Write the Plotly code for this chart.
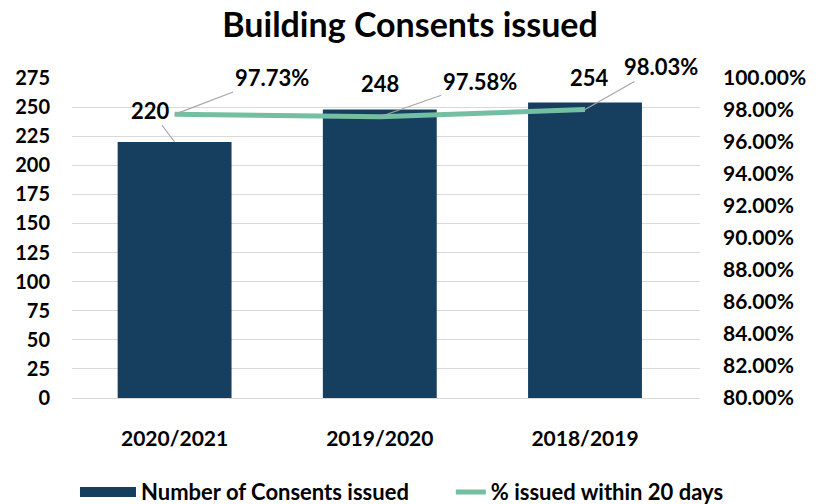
import plotly.graph_objects as go

categories = ["2020/2021", "2019/2020", "2018/2019"]
consents = [220, 248, 254]
pct_within_20 = [0.9773, 0.9758, 0.9803]
pct_labels = ["97.73%", "97.58%", "98.03%"]

FONT = "Lato"
NAVY = "#163f5f"
TEAL = "#74bfa2"
LEAD = "#a6a6a6"

fig = go.Figure()
fig.add_trace(go.Bar(
    x=categories, y=consents, name="Number of Consents issued",
    marker=dict(color=NAVY, line=dict(width=0)), width=0.555, showlegend=False,
))
# legend-only entry giving a wide bar swatch like the reference
fig.add_trace(go.Scatter(
    x=[None], y=[None], name="Number of Consents issued", mode="lines",
    line=dict(color=NAVY, width=18), showlegend=True, legend="legend",
))
fig.add_trace(go.Scatter(
    x=categories, y=pct_within_20, name="% issued within 20 days",
    mode="lines", line=dict(color=TEAL, width=5), yaxis="y2", legend="legend2",
))

lab_font = dict(family=FONT, size=22, color="black", weight="bold")
# bar value labels
bar_offsets = [(-24, -32, True), (0, -26, False), (4, -25, False)]
for c, v, (ax, ay, arrow) in zip(categories, consents, bar_offsets):
    if arrow:
        fig.add_annotation(x=c, y=v, xref="x", yref="y", text=str(v), showarrow=True,
                           ax=ax, ay=ay, arrowhead=0, arrowwidth=1.2, arrowcolor=LEAD,
                           font=lab_font, standoff=0)
    else:
        fig.add_annotation(x=c, y=v, xref="x", yref="y", text=str(v), showarrow=False,
                           yshift=-ay, xshift=ax, font=lab_font)
# line value labels
pct_offsets = [(97, -37), (100, -35), (76, -43)]
for c, v, t, (ax, ay) in zip(categories, pct_within_20, pct_labels, pct_offsets):
    fig.add_annotation(x=c, y=v, xref="x", yref="y2", text=t, showarrow=True,
                       ax=ax, ay=ay, arrowhead=0, arrowwidth=1.2, arrowcolor=LEAD,
                       font=lab_font, standoff=0)

leg_font = dict(family=FONT, size=22, color="black", weight="bold")
fig.update_layout(
    width=811, height=496,
    margin=dict(l=64, r=119, t=70, b=106, autoexpand=False),
    paper_bgcolor="white", plot_bgcolor="white",
    title=dict(text="<b>Building Consents issued</b>", x=0.4957, xanchor="center",
               y=0.966, yanchor="middle", font=dict(family=FONT, size=34, color="black")),
    xaxis=dict(tickfont=dict(family=FONT, size=21, color="black", weight="bold"),
               showgrid=False, showline=True, linecolor="#d9d9d9",
               ticklabelstandoff=22),
    yaxis=dict(range=[0, 275], dtick=25,
               tickfont=dict(family=FONT, size=20, color="black", weight="bold"),
               showgrid=True, gridcolor="#d9d9d9", gridwidth=1, zeroline=False,
               ticklabelstandoff=21),
    yaxis2=dict(range=[0.8, 1.0], dtick=0.02, tickformat=".2%", overlaying="y", side="right",
                tickfont=dict(family=FONT, size=21, color="black", weight="bold"),
                showgrid=False, zeroline=False, ticklabelstandoff=22),
    legend=dict(orientation="h", xref="container", yref="container",
                x=0.0826, xanchor="left", y=0.024, yanchor="middle",
                font=leg_font, itemwidth=56),
    legend2=dict(orientation="h", xref="container", yref="container",
                 x=0.546, xanchor="left", y=0.024, yanchor="middle",
                 font=leg_font, itemwidth=30),
    showlegend=True,
)

fig.write_html("out.html")
